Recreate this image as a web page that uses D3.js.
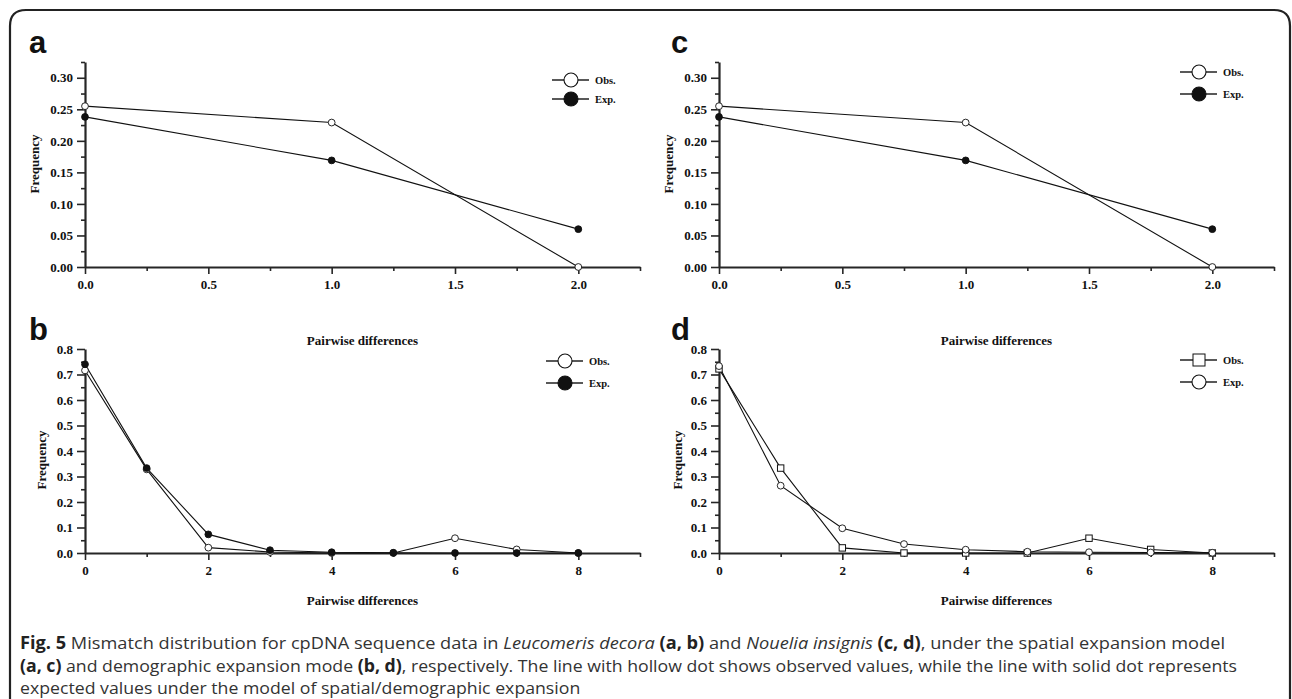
<!DOCTYPE html>
<html><head><meta charset="utf-8">
<script src="https://cdn.jsdelivr.net/npm/d3@7"></script>
<style>body{margin:0;background:#fff} svg{display:block}</style>
</head><body>
<svg id="chart" width="1292" height="699"></svg>
<script>
// ---------- data ----------
const spatialX = [0, 1, 2];
const spatialObs = [0.255, 0.229, 0.000];
const spatialExp = [0.238, 0.169, 0.060];

const demoX = [0, 1, 2, 3, 4, 5, 6, 7, 8];
const leucoObs = [0.716, 0.328, 0.021, 0.004, 0.000, 0.000, 0.058, 0.014, 0.000];
const leucoExp = [0.740, 0.333, 0.073, 0.011, 0.003, 0.001, 0.000, 0.000, 0.000];
const noueliaObs = [0.722, 0.333, 0.020, 0.000, 0.000, 0.000, 0.058, 0.014, 0.000];
const noueliaExp = [0.733, 0.264, 0.097, 0.035, 0.013, 0.005, 0.003, 0.002, 0.001];

const spatialXTicks = [0, 0.5, 1.0, 1.5, 2.0];
const spatialYTicks = [0, 0.05, 0.10, 0.15, 0.20, 0.25, 0.30];
const demoXTicks = [0, 2, 4, 6, 8];
const demoYTicks = [0, 0.1, 0.2, 0.3, 0.4, 0.5, 0.6, 0.7, 0.8];

const legendNames = ["Obs.", "Exp."];
const xTitle = "Pairwise differences";
const yTitle = "Frequency";

const captionLines = [
  [["Fig. 5", "b"], [" Mismatch distribution for cpDNA sequence data in ", ""], ["Leucomeris decora", "i"], [" ", ""], ["(a, b)", "b"], [" and ", ""], ["Nouelia insignis", "i"], [" ", ""], ["(c, d)", "b"], [", under the spatial expansion model", ""]],
  [["(a, c)", "b"], [" and demographic expansion mode ", ""], ["(b, d)", "b"], [", respectively. The line with hollow dot shows observed values, while the line with solid dot represents", ""]],
  [["expected values under the model of spatial/demographic expansion", ""]]
];

// ---------- drawing ----------
const svg = d3.select("#chart");
const SERIF = "'Liberation Serif','Times New Roman',serif";
const AX = "#262626";

// outer frame
svg.append("path")
  .attr("d", "M10,699 L10,26 Q10,10 26,10 L1274,10 Q1290,10 1290,26 L1290,699")
  .attr("fill", "none").attr("stroke", "#222").attr("stroke-width", 2.2);

function drawMarkers(g, pts, type, r, legend) {
  pts.forEach(p => {
    if (type === "square") {
      const h = legend ? 6 : 3.2;
      g.append("rect").attr("x", p[0] - h).attr("y", p[1] - h).attr("width", 2 * h).attr("height", 2 * h)
        .attr("fill", "#fff").attr("stroke", "#111").attr("stroke-width", 1);
    } else {
      g.append("circle").attr("cx", p[0]).attr("cy", p[1]).attr("r", r)
        .attr("fill", type === "filled" ? "#111" : "#fff")
        .attr("stroke", "#111").attr("stroke-width", legend ? 1.1 : 0.9);
    }
  });
}

function drawPanel(o) {
  const g = svg.append("g");
  const x = d3.scaleLinear().domain([0, o.xmax]).range([o.left, o.right]);
  const y = d3.scaleLinear().domain([0, o.ymax]).range([o.bottom, o.top]);

  const xMinor = d3.range(0, o.xmax + 1e-9, o.xminor).filter(v => !o.xticks.some(t => Math.abs(t - v) < 1e-9));
  const yMinor = d3.range(0, o.ymax + 1e-9, o.yminor).filter(v => !o.yticks.some(t => Math.abs(t - v) < 1e-9));

  g.append("g").attr("transform", `translate(0,${o.bottom})`)
    .call(d3.axisBottom(x).tickValues(xMinor).tickSize(4).tickSizeOuter(0).tickFormat(""))
    .call(s => s.select(".domain").remove());
  g.append("g").attr("transform", `translate(${o.left},0)`)
    .call(d3.axisLeft(y).tickValues(yMinor).tickSize(4).tickSizeOuter(0).tickFormat(""))
    .call(s => s.select(".domain").remove());

  const xa = g.append("g").attr("transform", `translate(0,${o.bottom})`)
    .call(d3.axisBottom(x).tickValues(o.xticks).tickSize(7).tickSizeOuter(0).tickPadding(6).tickFormat(o.xfmt));
  const ya = g.append("g").attr("transform", `translate(${o.left},0)`)
    .call(d3.axisLeft(y).tickValues(o.yticks).tickSize(8).tickSizeOuter(0).tickPadding(4).tickFormat(o.yfmt));

  g.selectAll(".tick line").attr("stroke", AX).attr("stroke-width", 1.6);
  [xa, ya].forEach(a => {
    a.select(".domain").attr("stroke", AX).attr("stroke-width", 2.2);
    a.selectAll("text").attr("fill", "#111").style("font-family", SERIF)
      .style("font-weight", "bold").style("font-size", "13px");
  });

  const line = d3.line().x(d => x(d[0])).y(d => y(d[1]));
  o.series.forEach(s => {
    const pts = o.xs.map((v, i) => [v, s.values[i]]);
    g.append("path").attr("d", line(pts)).attr("fill", "none")
      .attr("stroke", "#111").attr("stroke-width", 1.1);
  });
  o.series.forEach(s => {
    const pts = o.xs.map((v, i) => [v, s.values[i]]);
    drawMarkers(g, pts.map(p => [x(p[0]), y(p[1])]), s.marker, 3.4);
  });

  o.series.forEach((s, i) => {
    const ly = o.legY + i * o.legDy;
    g.append("line").attr("x1", o.legX - 19).attr("x2", o.legX + 18)
      .attr("y1", ly).attr("y2", ly).attr("stroke", "#222").attr("stroke-width", 1.3);
    drawMarkers(g, [[o.legX, ly]], s.marker, 7, true);
    g.append("text").attr("x", o.legX + 24).attr("y", ly + 4)
      .style("font-family", SERIF).style("font-weight", "bold").style("font-size", "10.5px")
      .attr("fill", "#111").text(legendNames[i]);
  });

  g.append("text").attr("x", (o.left + o.right) / 2).attr("y", o.xTitleY)
    .attr("text-anchor", "middle").style("font-family", SERIF).style("font-weight", "bold")
    .style("font-size", "13px").attr("fill", "#111").text(xTitle);
  g.append("text").attr("transform", `translate(${o.yTitleX},${o.yTitleCY}) rotate(-90)`)
    .attr("text-anchor", "middle").attr("dy", "0.35em").style("font-family", SERIF).style("font-weight", "bold")
    .style("font-size", "13px").attr("fill", "#111").text(yTitle);

  g.append("text").attr("x", o.labelX).attr("y", o.labelY)
    .style("font-family", "'Liberation Sans',Arial,sans-serif").style("font-weight", "bold")
    .style("font-size", "31px").attr("fill", "#111").text(o.label);
}

const f1 = d3.format(".1f"), f2 = d3.format(".2f"), f0 = d3.format("d");

const topRow = { top: 62, bottom: 267, xmax: 2.25, xminor: 0.25, ymax: 0.325, yminor: 0.025,
  xticks: spatialXTicks, yticks: spatialYTicks, xfmt: f1, yfmt: f2, xs: spatialX, xTitleY: 344.5 };
const botRow = { top: 349, bottom: 553, xmax: 9, xminor: 1, ymax: 0.8, yminor: 0.05,
  xticks: demoXTicks, yticks: demoYTicks, xfmt: f0, yfmt: f1, xs: demoX, xTitleY: 604.5 };

drawPanel(Object.assign({}, topRow, { left: 85, right: 640, label: "a", labelX: 29, labelY: 53,
  yTitleX: 34, yTitleCY: 164, legX: 571, legY: 80, legDy: 19,
  series: [{ values: spatialObs, marker: "hollow" }, { values: spatialExp, marker: "filled" }] }));
drawPanel(Object.assign({}, topRow, { left: 719, right: 1274, label: "c", labelX: 671, labelY: 53,
  yTitleX: 668, yTitleCY: 164, legX: 1199, legY: 72, legDy: 22,
  series: [{ values: spatialObs, marker: "hollow" }, { values: spatialExp, marker: "filled" }] }));
drawPanel(Object.assign({}, botRow, { left: 85, right: 640, label: "b", labelX: 29, labelY: 340,
  yTitleX: 41, yTitleCY: 460, legX: 565, legY: 361, legDy: 22,
  series: [{ values: leucoObs, marker: "hollow" }, { values: leucoExp, marker: "filled" }] }));
drawPanel(Object.assign({}, botRow, { left: 719, right: 1274, label: "d", labelX: 671, labelY: 340,
  yTitleX: 677, yTitleCY: 460, legX: 1199, legY: 360, legDy: 22,
  series: [{ values: noueliaObs, marker: "square" }, { values: noueliaExp, marker: "hollow" }] }));

const capY = [649, 672, 694];
const capTarget = [1205, 1217, null];
let ratio = 1;
captionLines.forEach((parts, li) => {
  const t = svg.append("text").attr("x", 20).attr("y", capY[li])
    .style("font-family", "'Open Sans','Noto Sans',sans-serif").style("font-size", "17px").attr("fill", "#333");
  parts.forEach(p => {
    const ts = t.append("tspan").text(p[0]);
    if (p[1] === "b") ts.style("font-weight", "bold").attr("fill", "#222");
    if (p[1] === "i") ts.style("font-style", "italic");
  });
  const w = t.node().getComputedTextLength();
  if (capTarget[li]) { ratio = capTarget[li] / w; t.attr("textLength", capTarget[li]); }
  else t.attr("textLength", w * ratio);
  t.attr("lengthAdjust", "spacingAndGlyphs");
});
</script>
</body></html>
